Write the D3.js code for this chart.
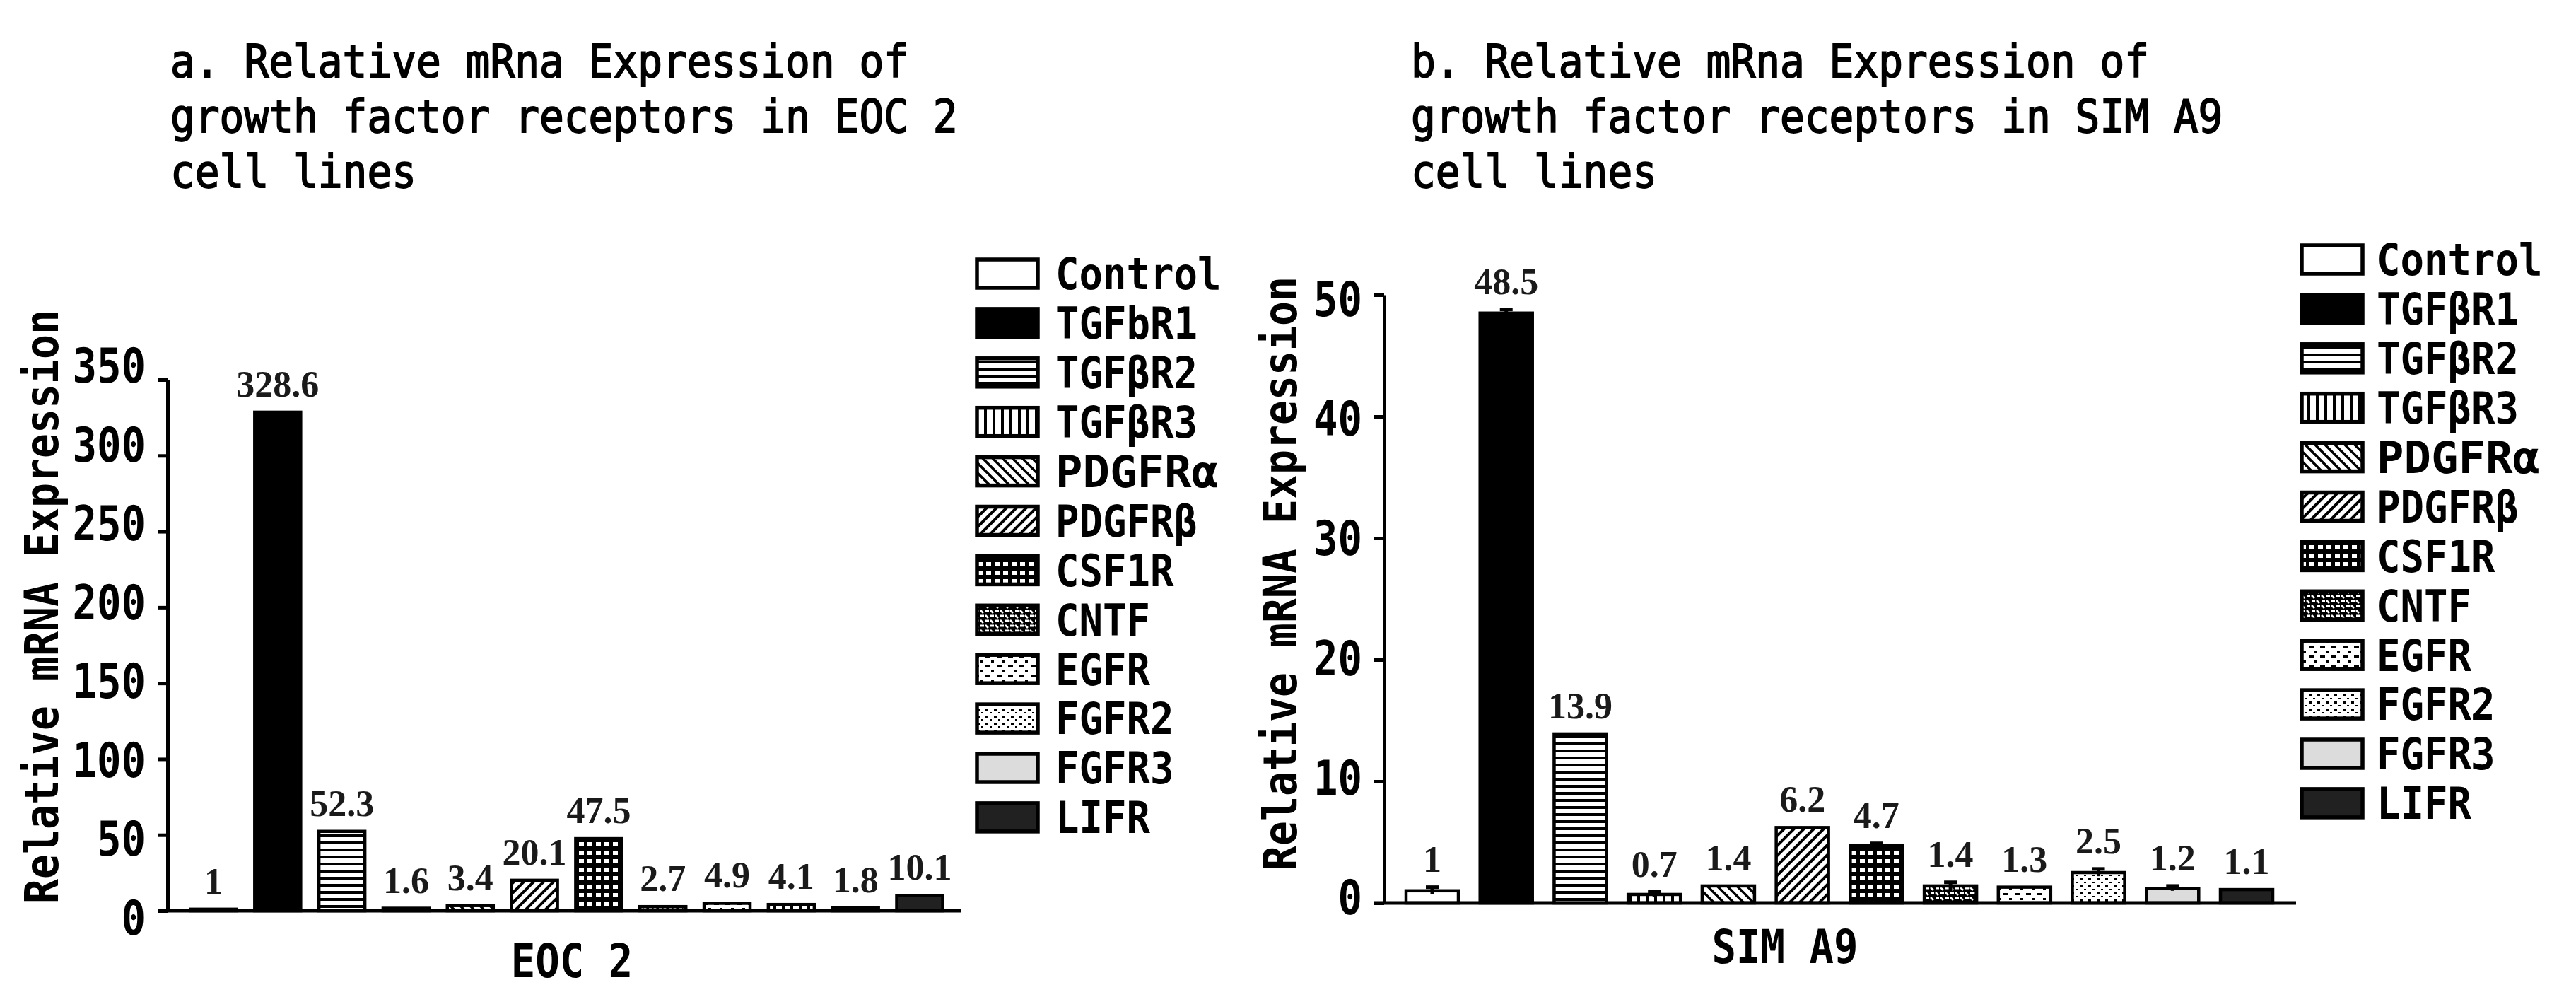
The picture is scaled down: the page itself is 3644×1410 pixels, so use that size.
<!DOCTYPE html>
<html><head><meta charset="utf-8">
<script src="https://cdn.jsdelivr.net/npm/d3@7"></script>
<style>body{margin:0;background:#fff}svg{display:block}</style>
</head><body>
<svg id="chart" width="3644" height="1410"></svg>
<script>
// ---------- data ----------
const categoriesA = ["Control","TGFbR1","TGFβR2","TGFβR3","PDGFRα","PDGFRβ","CSF1R","CNTF","EGFR","FGFR2","FGFR3","LIFR"];
const categoriesB = ["Control","TGFβR1","TGFβR2","TGFβR3","PDGFRα","PDGFRβ","CSF1R","CNTF","EGFR","FGFR2","FGFR3","LIFR"];
const valuesA = [1, 328.6, 52.3, 1.6, 3.4, 20.1, 47.5, 2.7, 4.9, 4.1, 1.8, 10.1];
const valuesB = [1, 48.5, 13.9, 0.7, 1.4, 6.2, 4.7, 1.4, 1.3, 2.5, 1.2, 1.1];
const errorsB = [0.3, 0.3, 0, 0.2, 0, 0, 0.2, 0.3, 0, 0.3, 0.2, 0];
const ticksA = [0, 50, 100, 150, 200, 250, 300, 350];
const ticksB = [0, 10, 20, 30, 40, 50];
const titleA = ["a. Relative mRna Expression of", "growth factor receptors in EOC 2", "cell lines"];
const titleB = ["b. Relative mRna Expression of", "growth factor receptors in SIM A9", "cell lines"];
const xLabelA = "EOC 2";
const xLabelB = "SIM A9";
const yLabel = "Relative mRNA Expression";

// ---------- styles ----------
const svg = d3.select("#chart");
const defs = svg.append("defs");
const MONO = "'DejaVu Sans Mono', 'Liberation Mono', monospace";
const SERIF = "'Liberation Serif', 'Times New Roman', serif";

function pat(id, w, h, bg, draw) {
  const p = defs.append("pattern").attr("id", id).attr("patternUnits", "userSpaceOnUse")
    .attr("width", w).attr("height", h);
  p.append("rect").attr("width", w).attr("height", h).attr("fill", bg);
  draw(p);
}
pat("hstripe", 10, 10, "#fff", p => p.append("rect").attr("y", 0).attr("width", 10).attr("height", 4).attr("fill", "#000"));
pat("vstripe", 12, 12, "#fff", p => p.append("rect").attr("x", 0).attr("width", 4).attr("height", 12).attr("fill", "#000"));
pat("bdiag", 14, 14, "#fff", p => {
  p.append("path").attr("d", "M0,0 L14,14 M-7,7 L7,21 M7,-7 L21,7").attr("stroke", "#000").attr("stroke-width", 3.5);
  p.append("rect").attr("x", 2).attr("y", 7).attr("width", 3).attr("height", 3).attr("fill", "#fff");
});
pat("fdiag", 14, 14, "#fff", p => {
  p.append("path").attr("d", "M0,14 L14,0 M-7,7 L7,-7 M7,21 L21,7").attr("stroke", "#000").attr("stroke-width", 4);
});
pat("grid", 12, 12, "#000", p => p.append("rect").attr("x", 3).attr("y", 3).attr("width", 7).attr("height", 6).attr("fill", "#fff"));
pat("cntf", 14, 14, "#000", p => {
  p.append("path").attr("d", "M1,3 L6,3 M8,10 L13,10").attr("stroke", "#fff").attr("stroke-width", 3);
  p.append("path").attr("d", "M8,2 L12,6 M1,9 L5,13").attr("stroke", "#fff").attr("stroke-width", 2.5);
});
pat("dash", 16, 14, "#fff", p => {
  p.append("rect").attr("x", 2).attr("y", 3).attr("width", 7).attr("height", 3).attr("fill", "#000");
  p.append("rect").attr("x", 10).attr("y", 10).attr("width", 4).attr("height", 3).attr("fill", "#000");
});
pat("dots", 12, 10, "#fff", p => {
  p.append("rect").attr("x", 2).attr("y", 2).attr("width", 4).attr("height", 3).attr("fill", "#000");
  p.append("rect").attr("x", 8).attr("y", 7).attr("width", 3).attr("height", 2).attr("fill", "#000");
});
const fills = ["#fff", "#000", "url(#hstripe)", "url(#vstripe)", "url(#bdiag)", "url(#fdiag)", "url(#grid)", "url(#cntf)", "url(#dash)", "url(#dots)", "#dcdcdc", "#212121"];

function monoText(g, str, x, y, size, weight, charW, anchor) {
  const t = g.append("text").attr("x", x).attr("y", y).text(str)
    .attr("font-family", MONO).attr("font-size", size).attr("font-weight", weight)
    .attr("fill", "#000").attr("text-anchor", anchor || "start");
  t.attr("textLength", str.length * charW).attr("lengthAdjust", "spacingAndGlyphs");
  return t;
}

function panel(cfg) {
  const { cats, vals, errs, ticks, max, title } = cfg;
  const g = svg.append("g");
  const n = cats.length;
  const s = (cfg.lastC - cfg.firstC) / (n - 1);
  const pi = 1 - cfg.barW / s;
  const x = d3.scaleBand().domain(cats).range([cfg.firstC - s / 2, cfg.lastC + s / 2])
    .paddingInner(pi).paddingOuter(pi / 2);
  const y = d3.scaleLinear().domain([0, max]).range([cfg.y0, cfg.yTop]);
  const yLab = d3.scaleLinear().domain([0, max]).range([cfg.lab0, cfg.labTop]);

  // title
  title.forEach((line, i) => monoText(g, line, cfg.titleX, cfg.titleY + i * cfg.titleGap, 64, "normal", 34.8)
    .attr("stroke", "#000").attr("stroke-width", 1.8));

  // bars
  g.selectAll("rect.bar").data(vals).join("rect").attr("class", "bar")
    .attr("x", (d, i) => x(cats[i])).attr("width", x.bandwidth())
    .attr("y", d => y(d)).attr("height", d => y(0) - y(d))
    .attr("fill", (d, i) => fills[i]).attr("stroke", "#000").attr("stroke-width", 4.5);

  // error bars
  if (errs) {
    const eb = g.selectAll("g.err").data(vals.map((v, i) => ({ v, e: errs[i], c: cats[i] })).filter(d => d.e > 0))
      .join("g").attr("class", "err");
    eb.append("line").attr("x1", d => x(d.c) + x.bandwidth() / 2).attr("x2", d => x(d.c) + x.bandwidth() / 2)
      .attr("y1", d => y(d.v - d.e)).attr("y2", d => y(d.v + d.e)).attr("stroke", "#000").attr("stroke-width", 5);
    eb.append("line").attr("x1", d => x(d.c) + x.bandwidth() / 2 - 9).attr("x2", d => x(d.c) + x.bandwidth() / 2 + 9)
      .attr("y1", d => y(d.v + d.e)).attr("y2", d => y(d.v + d.e)).attr("stroke", "#000").attr("stroke-width", 5);
  }

  // value labels
  g.selectAll("text.val").data(vals).join("text").attr("class", "val")
    .attr("x", (d, i) => x(cats[i]) + x.bandwidth() / 2)
    .attr("y", (d, i) => y(d + (errs ? errs[i] : 0)) - 22)
    .attr("text-anchor", "middle").attr("font-family", SERIF).attr("font-weight", "bold")
    .attr("font-size", 52).attr("fill", "#1a1a1a").text(d => d);

  // y axis
  const ya = g.append("g").attr("transform", `translate(${cfg.axisX},0)`)
    .call(d3.axisLeft(y).tickValues(ticks).tickSize(14).tickSizeOuter(0).tickPadding(16).tickFormat(d3.format("d")));
  ya.select(".domain").attr("stroke", "#000").attr("stroke-width", 5);
  ya.selectAll(".tick line").attr("stroke", "#000").attr("stroke-width", 5);
  ya.selectAll(".tick text").each(function (d) {
    const t = d3.select(this);
    const str = String(d);
    t.attr("font-family", MONO).attr("font-weight", "bold").attr("font-size", 68).attr("fill", "#000")
      .attr("y", yLab(d) - y(d)).attr("dy", "0.36em").attr("x", -31)
      .attr("textLength", str.length * 34.5).attr("lengthAdjust", "spacingAndGlyphs");
  });
  ya.attr("font-family", null).attr("font-size", null);

  // x axis line
  g.append("line").attr("x1", cfg.axisX - 14).attr("x2", cfg.x1).attr("y1", y(0)).attr("y2", y(0))
    .attr("stroke", "#000").attr("stroke-width", 5);

  // axis labels
  monoText(g, cfg.xLabel, cfg.xLabelX, cfg.xLabelY, 66, "bold", 34.5, "middle");
  const yl = monoText(g, yLabel, 0, 0, 66, "bold", 35, "middle");
  yl.attr("transform", `translate(${cfg.yLabelX},${cfg.yLabelY}) rotate(-90)`);

  // legend
  const lg = g.append("g");
  cats.forEach((c, i) => {
    const yy = cfg.legY0 + i * 69.9;
    lg.append("rect").attr("x", cfg.legBoxX).attr("y", yy - 20).attr("width", 86).attr("height", 40)
      .attr("fill", fills[i]).attr("stroke", "#000").attr("stroke-width", 5.5);
    const t = lg.append("text").attr("x", cfg.legTextX).attr("y", yy).attr("dy", "0.36em")
      .attr("font-family", MONO).attr("font-weight", "bold").attr("font-size", 62).attr("fill", "#000").text(c);
    t.attr("textLength", c.length * 33.5 + (c.includes("α") ? 30 : 0)).attr("lengthAdjust", "spacingAndGlyphs");
  });
}

panel({ cats: categoriesA, vals: valuesA, errs: null, ticks: ticksA, max: 350, title: titleA,
  axisX: 237, x1: 1360, y0: 1288, yTop: 537, lab0: 1297, labTop: 516,
  firstC: 302, lastC: 1301, barW: 65,
  titleX: 241, titleY: 109, titleGap: 78,
  xLabel: xLabelA, xLabelX: 809, xLabelY: 1382, yLabelX: 82, yLabelY: 858,
  legBoxX: 1382, legTextX: 1493, legY0: 387 });

panel({ cats: categoriesB, vals: valuesB, errs: errorsB, ticks: ticksB, max: 50, title: titleB,
  axisX: 1958, x1: 3248, y0: 1277, yTop: 417, lab0: 1268, labTop: 422,
  firstC: 2026, lastC: 3178, barW: 74,
  titleX: 1996, titleY: 109, titleGap: 78,
  xLabel: xLabelB, xLabelX: 2525, xLabelY: 1362, yLabelX: 1834, yLabelY: 811,
  legBoxX: 3256, legTextX: 3362, legY0: 367 });
</script>
</body></html>
